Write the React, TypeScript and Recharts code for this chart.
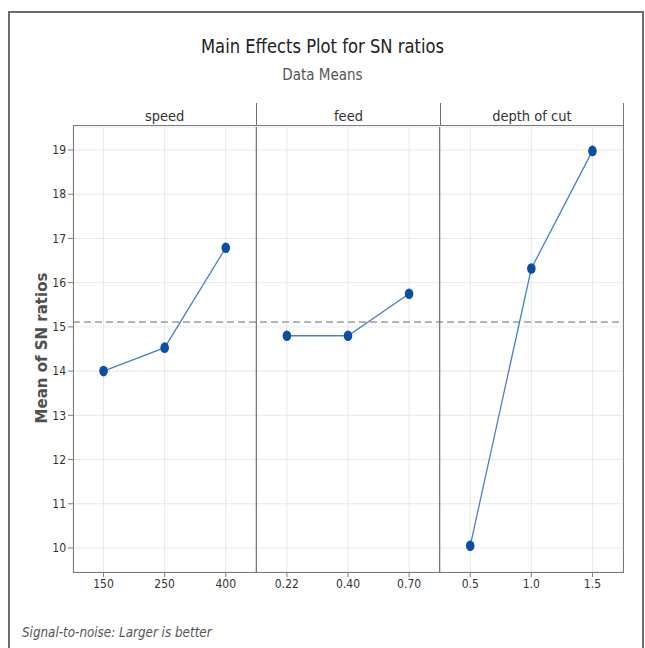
import React from "react";
import {
  LineChart,
  Line,
  CartesianGrid,
  XAxis,
  YAxis,
  ReferenceLine,
} from "recharts";

// factor levels (x tick labels)
const speedLevels = ["150", "250", "400"];
const feedLevels = ["0.22", "0.40", "0.70"];
const depthLevels = ["0.5", "1.0", "1.5"];

// mean SN ratio at each level
const speedSN = [14.0, 14.53, 16.79];
const feedSN = [14.8, 14.8, 15.75];
const depthSN = [10.05, 16.32, 18.98];

const factorNames = ["speed", "feed", "depth of cut"];
const overallMean = 15.11;
const yTicks = [10, 11, 12, 13, 14, 15, 16, 17, 18, 19];

const NARROW = '"DejaVu Sans", sans-serif';
const narrowStyle = { fontFamily: NARROW, fontStretch: "condensed" } as const;

// one row per x position; each factor only has values in its own panel
const allLevels = [...speedLevels, ...feedLevels, ...depthLevels];
const rows = allLevels.map((label, i) => ({
  x: i,
  label,
  speed: i < 3 ? speedSN[i] : null,
  feed: i >= 3 && i < 6 ? feedSN[i - 3] : null,
  depth: i >= 6 ? depthSN[i - 6] : null,
}));

const PLOT_L = 73;
const PLOT_R = 623;
const PLOT_T = 127;
const PLOT_B = 572;
const HEAD_T = 103;

function Marker(props: any) {
  const { cx, cy, payload, dataKey } = props;
  if (cx == null || cy == null || payload[dataKey] == null) return <g key={props.key} />;
  return <ellipse key={props.key} cx={cx} cy={cy} rx={4.3} ry={5.3} fill="#0b4fa3" />;
}

export default function App() {
  const panelW = (PLOT_R - PLOT_L) / 3;
  const tickStyle = { fontFamily: NARROW, fontSize: 12, fill: "#333", style: { fontStretch: "condensed" } };
  return (
    <div style={{ position: "absolute", left: 0, top: 0, width: 645, height: 648, background: "#fff", overflow: "hidden" }}>
      {/* outer frame */}
      <div style={{ position: "absolute", left: 8, top: 11, width: 632, height: 660, border: "2px solid #6b6b6b" }} />

      <div style={{ ...narrowStyle, position: "absolute", left: 0, width: 645, top: 34, textAlign: "center", fontSize: 20, color: "#222", transform: "scaleX(0.91)" }}>
        Main Effects Plot for SN ratios
      </div>
      <div style={{ ...narrowStyle, position: "absolute", left: 0, width: 645, top: 66, textAlign: "center", fontSize: 15, color: "#555" }}>
        Data Means
      </div>

      <LineChart
        width={645}
        height={648}
        data={rows}
        margin={{ top: PLOT_T, right: 645 - PLOT_R, bottom: 648 - PLOT_B - 30, left: PLOT_L - 20 }}
        style={{ position: "absolute", left: 0, top: 0 }}
      >
        <CartesianGrid stroke="#e8e8e8" strokeWidth={1} />
        <XAxis
          dataKey="x"
          type="number"
          domain={[-0.5, 8.5]}
          ticks={rows.map((r) => r.x)}
          tickFormatter={(v: number) => allLevels[v]}
          axisLine={false}
          tickLine={{ stroke: "#808080" }}
          tickSize={5}
          tick={tickStyle}
          height={30}
        />
        <YAxis
          type="number"
          domain={[9.457, 19.52]}
          ticks={yTicks}
          allowDataOverflow
          axisLine={false}
          tickLine={{ stroke: "#808080" }}
          tickSize={5}
          tick={tickStyle}
          width={20}
        />
        <ReferenceLine y={overallMean} stroke="#9a9a9a" strokeWidth={1.6} strokeDasharray="7 4" />
        <ReferenceLine x={2.5} stroke="#6f6f6f" strokeWidth={1.2} />
        <ReferenceLine x={5.5} stroke="#6f6f6f" strokeWidth={1.2} />
        {["speed", "feed", "depth"].map((k) => (
          <Line
            key={k}
            dataKey={k}
            stroke="#4a80c8"
            strokeWidth={1.3}
            dot={<Marker />}
            activeDot={false}
            connectNulls={false}
            isAnimationActive={false}
          />
        ))}
      </LineChart>

      {/* panel frame and header strip */}
      <div style={{ position: "absolute", left: PLOT_L, top: HEAD_T, width: PLOT_R - PLOT_L - 1, height: PLOT_B - HEAD_T - 1, border: "1px solid #7a7a7a", pointerEvents: "none" }} />
      {factorNames.map((name, i) => (
        <div
          key={name}
          style={{
            ...narrowStyle,
            position: "absolute",
            left: PLOT_L + i * panelW,
            top: HEAD_T,
            width: panelW,
            height: PLOT_T - HEAD_T - 1,
            borderBottom: "1px solid #7a7a7a",
            borderLeft: i > 0 ? "1px solid #6f6f6f" : "none",
            boxSizing: "border-box",
            textAlign: "center",
            fontSize: 14.5,
            lineHeight: `${PLOT_T - HEAD_T + 3}px`,
            color: "#333",
            background: "#fff",
          }}
        >
          {name}
        </div>
      ))}

      <div
        style={{
          position: "absolute",
          left: 42,
          top: 348,
          transform: "translate(-50%, -50%) rotate(-90deg)",
          whiteSpace: "nowrap",
          fontFamily: '"DejaVu Sans", Verdana, sans-serif',
          fontSize: 15,
          fontWeight: 600,
          color: "#505050",
        }}
      >
        Mean of SN ratios
      </div>

      <div style={{ ...narrowStyle, position: "absolute", left: 22, top: 625, fontStyle: "italic", fontSize: 13.3, color: "#555" }}>
        Signal-to-noise: Larger is better
      </div>
    </div>
  );
}
